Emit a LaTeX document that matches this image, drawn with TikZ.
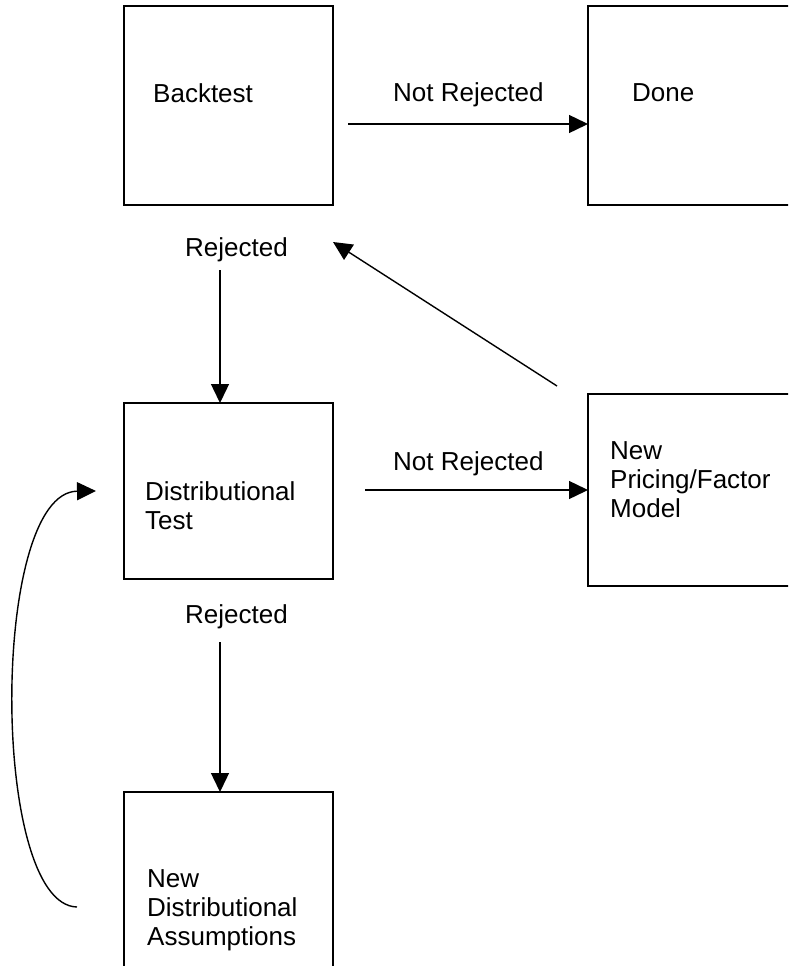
\documentclass[tikz,border=0pt]{standalone}
\usepackage{fontspec}
\setmainfont{Liberation Sans}
\usetikzlibrary{positioning,arrows.meta}

\begin{document}
\begin{tikzpicture}[
  x=1pt, y=-1pt,
  font=\fontsize{26}{29}\selectfont,
  box/.style={draw, line width=1.6pt, minimum width=209pt, inner sep=0pt, outer sep=0pt},
  txt/.style={align=left, inner sep=0pt, anchor=north west},
  lab/.style={inner sep=0pt, anchor=base west},
  flow/.style={-{Triangle[length=19pt,width=18pt]}, line width=1.4pt}]

\useasboundingbox (0,0) rectangle (788,966);
\clip (0,0) rectangle (788,966);

\node[box, minimum height=199pt] (bt) at (228.5,105.5) {};
\node[box, minimum height=199pt] (done) at (692.5,105.5) {};
\node[box, minimum height=176pt] (dt) at (228.5,491) {};
\node[box, minimum height=192pt] (pr) at (692.5,490) {};
\node[box, minimum height=199pt] (na) at (228.5,891.5) {};

\node[txt] (bttext) at (153,83) {Backtest};
\node[txt] (donetext) at (632,83) {Done};
\node[txt] (dttext) at (145,481) {Distributional\\Test};
\node[txt] (prtext) at (610,441) {New\\Pricing/Factor\\Model};
\node[txt] (natext) at (147,869) {New\\Distributional\\Assumptions};

\node[lab] (nrej1) at (393,101) {Not Rejected};
\node[lab] (rej1) at (185,256) {Rejected};
\node[lab] (nrej2) at (393,470) {Not Rejected};
\node[lab] (rej2) at (185,623) {Rejected};

\draw[flow] ([shift={(15,18.5)}]bt.east) -- ([shift={(0,18.5)}]done.west);
\draw[flow] ([shift={(-8.5,65)}]bt.south) -- ([shift={(-8.5,0)}]dt.north);
\draw[flow] ([shift={(32,-1)}]dt.east) -- (pr.west);
\draw[flow] ([shift={(-31,-8)}]pr.north west) -- ([shift={(0,37)}]bt.south east);
\draw[flow] ([shift={(-8.5,63)}]dt.south) -- ([shift={(-8.5,0)}]na.north);
\draw[flow] ([shift={(-47,15.5)}]na.west) .. controls (-10,905) and (-10,492) .. ([shift={(-28,0)}]dt.west);
\end{tikzpicture}
\end{document}
